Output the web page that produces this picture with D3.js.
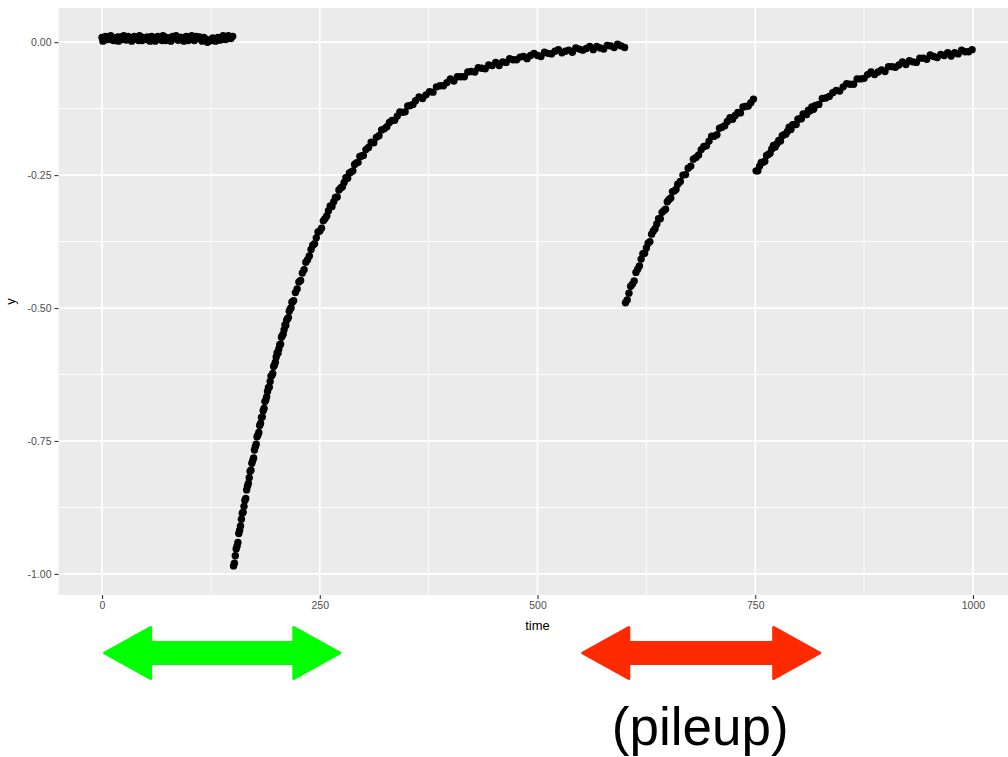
<!DOCTYPE html>
<html>
<head>
<meta charset="utf-8">
<script src="https://cdn.jsdelivr.net/npm/d3@7"></script>
<style>
  html, body { margin: 0; padding: 0; background: #fff; }
  svg { display: block; }
</style>
</head>
<body>
<svg id="chart" width="1008" height="757"></svg>
<script>
// ---------------- data ----------------
const xTicks = [0, 250, 500, 750, 1000];
const xTickLabels = ["0", "250", "500", "750", "1000"];
const xMinor = [125, 375, 625, 875];
const yTicks = [0, -0.25, -0.5, -0.75, -1];
const yTickLabels = ["0.00", "-0.25", "-0.50", "-0.75", "-1.00"];
const yMinor = [-0.125, -0.375, -0.625, -0.875];
const xLabel = "time";
const yLabel = "y";

// [time, y]
const baseline = [[0,.009],[1,.002],[3,.004],[4,.011],[6,.008],[7,.005],[9,.011],[10,.012],[12,.006],[13,.003],[15,.003],[16,.008],[18,.010],[19,.002],[21,.007],[22,.010],[24,.005],[25,.012],[27,.009],[28,.004],[30,.011],[31,.009],[33,.004],[34,.002],[36,.006],[37,.011],[39,.008],[40,.006],[42,.003],[43,.012],[45,.010],[46,.003],[48,.008],[49,.007],[51,.005],[52,.010],[54,.007],[55,.002],[57,.011],[58,.009],[60,.004],[61,.002],[63,.009],[64,.011],[66,.006],[67,.005],[69,.003],[70,.012],[72,.010],[73,.003],[75,.008],[76,.008],[78,.005],[79,.002],[81,.011],[82,.010],[84,.007],[85,.012],[87,.004],[88,.004],[90,.009],[91,.009],[93,.006],[94,.002],[96,.010],[97,.011],[99,.003],[100,.006],[102,.008],[103,.012],[105,.005],[106,.003],[108,.011],[109,.007],[111,.007],[112,.010],[114,.006],[115,.002],[117,.009],[118,.006],[120,.005],[121,.000],[123,.002],[124,.003],[126,.004],[127,.008],[129,.006],[130,.002],[132,.003],[133,.009],[135,.008],[136,.004],[138,.006],[139,.012],[141,.009],[142,.005],[144,.010],[145,.012],[147,.008],[148,.007],[150,.011]];

const decay1 = [[151,-.985],[152,-.980],[153,-.966],[154,-.953],[155,-.948],[156,-.941],[157,-.924],[158,-.918],[159,-.910],[160,-.897],[161,-.886],[162,-.884],[163,-.873],[164,-.862],[165,-.858],[166,-.842],[167,-.835],[168,-.830],[169,-.819],[170,-.807],[171,-.805],[172,-.792],[173,-.787],[174,-.782],[175,-.767],[176,-.761],[177,-.756],[178,-.742],[179,-.739],[180,-.734],[181,-.721],[182,-.717],[183,-.706],[184,-.705],[185,-.693],[186,-.689],[187,-.676],[188,-.673],[189,-.667],[190,-.657],[191,-.650],[192,-.649],[193,-.638],[194,-.628],[195,-.627],[196,-.623],[197,-.610],[198,-.607],[199,-.602],[200,-.592],[201,-.584],[202,-.585],[203,-.577],[204,-.569],[205,-.568],[206,-.555],[207,-.552],[208,-.549],[209,-.541],[210,-.532],[211,-.533],[212,-.523],[213,-.520],[214,-.518],[215,-.506],[216,-.502],[217,-.500],[218,-.489],[219,-.488],[220,-.486],
[222,-.471],[224,-.464],[226,-.451],[228,-.448],[230,-.434],[232,-.428],[234,-.414],[236,-.409],[238,-.402],[240,-.390],[242,-.382],[244,-.379],[246,-.368],[248,-.357],[250,-.355],[252,-.350],[254,-.336],[256,-.332],[258,-.327],[260,-.317],[262,-.308],[264,-.309],[266,-.300],[268,-.292],[270,-.291],[272,-.278],[274,-.274],[276,-.272],[278,-.264],[280,-.255],[282,-.256],[284,-.246],[286,-.244],[288,-.242],[290,-.230],[292,-.227],[294,-.226],[296,-.215],[298,-.214],[300,-.213],
[303,-.202],[306,-.198],[309,-.188],[312,-.189],[315,-.179],[318,-.176],[321,-.165],[324,-.163],[327,-.159],[330,-.151],[333,-.147],[336,-.147],[339,-.139],[342,-.131],[345,-.132],[348,-.131],[351,-.120],[354,-.119],[357,-.117],[360,-.110],
[364,-.103],[368,-.106],[372,-.099],[376,-.093],[380,-.094],[384,-.084],[388,-.082],[392,-.082],[396,-.076],[400,-.069],[404,-.073],[408,-.065],[412,-.065],[416,-.065],[420,-.056],[424,-.055],[428,-.056],[432,-.048],[436,-.049],[440,-.050],[444,-.043],[448,-.044],[452,-.038],[456,-.044],[460,-.037],[464,-.038],[468,-.031],[472,-.033],[476,-.033],[480,-.028],[484,-.027],[488,-.031],[492,-.025],[496,-.021],[500,-.025],[504,-.027],[508,-.019],[512,-.021],[516,-.022],[520,-.017],[524,-.014],[528,-.020],[532,-.017],[536,-.015],[540,-.019],[544,-.011],[548,-.013],[552,-.015],[556,-.012],[560,-.008],[564,-.014],[568,-.008],[572,-.011],[576,-.013],[580,-.006],[584,-.007],[588,-.010],[592,-.004],[596,-.007],[600,-.010]];

const decay2 = [[601,-.490],[603,-.485],[605,-.472],[607,-.459],[609,-.455],[611,-.449],[613,-.433],[615,-.427],[617,-.421],[619,-.408],[621,-.398],[623,-.397],[625,-.387],[627,-.378],[629,-.375],[631,-.361],[633,-.355],[635,-.351],[637,-.342],[639,-.332],[641,-.332],[643,-.320],[645,-.317],[647,-.314],[649,-.300],[651,-.296],[653,-.293],[655,-.281],[657,-.280],[659,-.277],[661,-.267],
[664,-.262],[667,-.250],[670,-.249],[673,-.237],[676,-.233],[679,-.220],[682,-.217],[685,-.212],[688,-.202],[691,-.196],[694,-.195],[697,-.186],[700,-.177],[703,-.177],[706,-.174],[709,-.162],[712,-.160],[715,-.157],[718,-.149],[721,-.142],[724,-.145],[727,-.138],[730,-.132],[733,-.133],[736,-.122],[739,-.121],[742,-.120],[745,-.114],[748,-.107]];

const decay3 = [[751,-.242],[753,-.242],[755,-.233],[757,-.226],[759,-.226],[761,-.224],[763,-.213],[765,-.211],[767,-.209],[769,-.201],[771,-.194],[773,-.197],[775,-.191],[777,-.185],[779,-.186],[781,-.176],[783,-.174],[785,-.173],[787,-.168],[789,-.160],[791,-.164],[793,-.155],[795,-.155],[797,-.155],[799,-.145],[801,-.144],[803,-.144],[805,-.135],[807,-.136],[809,-.136],[811,-.128],[813,-.129],[815,-.122],[817,-.126],[819,-.119],
[823,-.117],[827,-.106],[831,-.105],[835,-.102],[839,-.095],[843,-.091],[847,-.092],[851,-.084],[855,-.078],[859,-.079],[863,-.079],[867,-.069],[871,-.069],[875,-.068],[879,-.061],[883,-.056],[887,-.061],[891,-.056],[895,-.052],[899,-.055],[903,-.046],[907,-.046],[911,-.047],[915,-.043],[919,-.037],[923,-.042],[927,-.035],[931,-.037],[935,-.038],[939,-.030],[943,-.030],[947,-.032],[951,-.024],[955,-.027],[959,-.029],[963,-.023],[967,-.025],[971,-.020],[975,-.026],[979,-.020],[983,-.022],[987,-.015],[991,-.018],[995,-.018],[999,-.014]];

// annotation arrows: time span each arrow covers
const arrowSpans = [[3, 273], [552, 824]];
const arrowLabels = ["", "(pileup)"];

// ---------------- layout ----------------
const svg = d3.select("#chart");
const W = 1008, H = 757;
const panel = { left: 58.5, right: 1016.5, top: 8, bottom: 595 };

const x = d3.scaleLinear().domain([-50, 1050]).range([panel.left, panel.right]);
const y = d3.scaleLinear().domain([-1.0397, 0.0643]).range([panel.bottom, panel.top]);

svg.append("rect").attr("width", W).attr("height", H).attr("fill", "#fff");

svg.append("rect")
  .attr("x", panel.left).attr("y", panel.top)
  .attr("width", panel.right - panel.left).attr("height", panel.bottom - panel.top)
  .attr("fill", "#EBEBEB");

const grid = svg.append("g");
grid.selectAll("line.xminor").data(xMinor).join("line")
  .attr("x1", d => x(d)).attr("x2", d => x(d))
  .attr("y1", panel.top).attr("y2", panel.bottom)
  .attr("stroke", "#fff").attr("stroke-width", 0.9);
grid.selectAll("line.yminor").data(yMinor).join("line")
  .attr("x1", panel.left).attr("x2", panel.right)
  .attr("y1", d => y(d)).attr("y2", d => y(d))
  .attr("stroke", "#fff").attr("stroke-width", 0.9);
grid.selectAll("line.xmajor").data(xTicks).join("line")
  .attr("x1", d => x(d)).attr("x2", d => x(d))
  .attr("y1", panel.top).attr("y2", panel.bottom)
  .attr("stroke", "#fff").attr("stroke-width", 1.7);
grid.selectAll("line.ymajor").data(yTicks).join("line")
  .attr("x1", panel.left).attr("x2", panel.right)
  .attr("y1", d => y(d)).attr("y2", d => y(d))
  .attr("stroke", "#fff").attr("stroke-width", 1.7);

// axes
const font = "'Liberation Sans', Arial, Helvetica, sans-serif";
const xAxis = d3.axisBottom(x).tickValues(xTicks)
  .tickFormat((d, i) => xTickLabels[i]).tickSize(4).tickPadding(3);
const gx = svg.append("g").attr("transform", `translate(0,${panel.bottom})`).call(xAxis);
const yAxis = d3.axisLeft(y).tickValues(yTicks)
  .tickFormat((d, i) => yTickLabels[i]).tickSize(4).tickPadding(3);
const gy = svg.append("g").attr("transform", `translate(${panel.left},0)`).call(yAxis);
[gx, gy].forEach(g => {
  g.select(".domain").remove();
  g.selectAll(".tick line").attr("stroke", "#333").attr("stroke-width", 1.1);
  g.selectAll(".tick text").attr("fill", "#4D4D4D")
    .style("font-family", font).style("font-size", "10.5px");
});

svg.append("text")
  .attr("x", (panel.left + panel.right) / 2).attr("y", 630)
  .attr("text-anchor", "middle")
  .style("font-family", font).style("font-size", "13px").attr("fill", "#000")
  .text(xLabel);
svg.append("text")
  .attr("transform", `translate(15,${(panel.top + panel.bottom) / 2}) rotate(-90)`)
  .attr("text-anchor", "middle")
  .style("font-family", font).style("font-size", "13px").attr("fill", "#000")
  .text(yLabel);

// points
const clip = svg.append("clipPath").attr("id", "clip").append("rect")
  .attr("x", panel.left).attr("y", panel.top)
  .attr("width", panel.right - panel.left).attr("height", panel.bottom - panel.top);
const pts = svg.append("g").attr("clip-path", "url(#clip)");
const allPoints = [...baseline, ...decay1, ...decay2, ...decay3];
pts.selectAll("circle").data(allPoints).join("circle")
  .attr("cx", d => x(d[0])).attr("cy", d => y(d[1]))
  .attr("r", 3.7).attr("fill", "#000");

// arrows
const arrowColors = ["#00FF00", "#FF2A00"];
const cy = 653, headLen = 46, headHalf = 25.5, shaftHalf = 10.5;
arrowSpans.forEach((s, i) => {
  const x1 = x(s[0]), x2 = x(s[1]);
  const p = d3.path();
  p.moveTo(x1, cy);
  p.lineTo(x1 + headLen, cy - headHalf);
  p.lineTo(x1 + headLen, cy - shaftHalf);
  p.lineTo(x2 - headLen, cy - shaftHalf);
  p.lineTo(x2 - headLen, cy - headHalf);
  p.lineTo(x2, cy);
  p.lineTo(x2 - headLen, cy + headHalf);
  p.lineTo(x2 - headLen, cy + shaftHalf);
  p.lineTo(x1 + headLen, cy + shaftHalf);
  p.lineTo(x1 + headLen, cy + headHalf);
  p.closePath();
  svg.append("path").attr("d", p.toString())
    .attr("fill", arrowColors[i]).attr("stroke", arrowColors[i])
    .attr("stroke-width", 3).attr("stroke-linejoin", "round");
  if (arrowLabels[i]) {
    svg.append("text")
      .attr("x", (x1 + x2) / 2 - 1).attr("y", 745)
      .attr("text-anchor", "middle")
      .style("font-family", font).style("font-size", "53px").attr("fill", "#000")
      .text(arrowLabels[i]);
  }
});
</script>
</body>
</html>
